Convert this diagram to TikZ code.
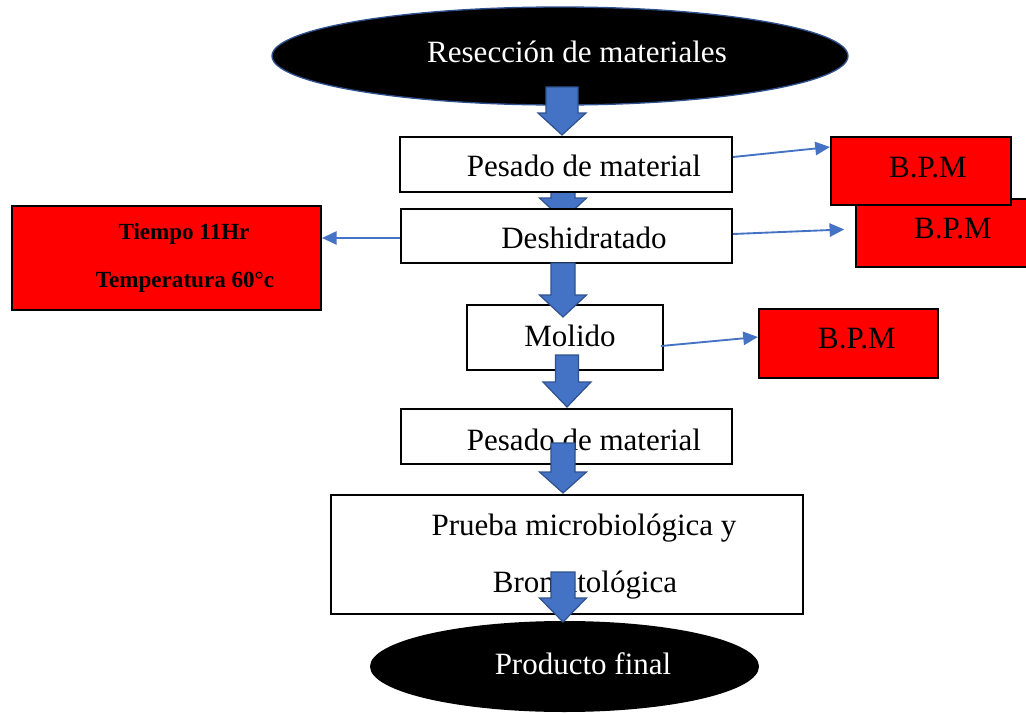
\documentclass[tikz,border=0pt]{standalone}
\usepackage{fontspec}
\setmainfont{Liberation Serif}
\usetikzlibrary{arrows.meta,fit,calc,shapes.geometric}
\definecolor{ablue}{HTML}{4472C4}
\definecolor{dblue}{HTML}{2F528F}
\definecolor{bred}{HTML}{FF0000}
\tikzset{
 box/.style={draw=black, line width=1.6pt, fill=white, inner sep=0pt},
 redbox/.style={draw=black, line width=1.6pt, fill=bred, inner sep=0pt},
 oval/.style={ellipse, fill=black, inner sep=0pt},
 lbl/.style={anchor=base, inner sep=0pt, font=\fontsize{23.25}{28}\selectfont},
 wlbl/.style={lbl, text=white},
 blbl/.style={anchor=base, inner sep=0pt, font=\fontsize{17.3}{20}\selectfont\bfseries},
 thinarrow/.style={draw=ablue, line width=1.4pt, -{Triangle[length=11pt,width=10pt]}},
 blockarrow/.style={fill=ablue, draw=dblue, line width=0.9pt, line join=miter},
}
% cx, shaft half width, head half width, y top, y head, y tip
\newcommand\blockarr[6]{%
 \draw[blockarrow] (#1-#2,#4) -- (#1+#2,#4) -- (#1+#2,#5) -- (#1+#3,#5) -- (#1,#6) -- (#1-#3,#5) -- (#1-#2,#5) -- cycle;}
\begin{document}
\begin{tikzpicture}[x=0.75pt,y=-0.75pt]
\useasboundingbox (0,0) rectangle (1026,714);
\clip (0,0) rectangle (1026,714);
% top ellipse
\node[oval, draw=dblue, line width=1pt, minimum width=432pt, minimum height=73.5pt] (e1) at (560,56) {};
\node[wlbl] (t0) at (577,62) {Resección de materiales};
\blockarr{562}{16}{24}{87}{113}{135}
\blockarr{563}{12}{23.5}{190}{198}{220}
% main boxes
\node[box, fit={(400,137)(732,192)}] (b1) {};
\node[lbl] (t1) at (584,176) {Pesado de material};
\node[box, fit={(401,209)(732,263)}] (b2) {};
\node[lbl] (t2) at (584,248) {Deshidratado};
% BPM boxes
\node[redbox, fit={(856,199)(1036,267)}] (r2) {};
\node[lbl] (tr2) at (953,238) {B.P.M};
\node[redbox, fit={(831,137)(1011,205)}] (r1) {};
\node[lbl] (tr1) at (928,177) {B.P.M};
% Molido
\node[box, fit={(467,305)(663,370)}] (m) {};
\node[lbl] (tm) at (570,346) {Molido};
\blockarr{563}{12}{23.5}{263}{295}{317}
\blockarr{567}{11.5}{24}{355}{382}{407}
\node[redbox, fit={(759,309)(938,378)}] (r3) {};
\node[lbl] (tr3) at (857,348) {B.P.M};
% left red box
\node[redbox, fit={(12,206)(321,310)}] (tr) {};
\node[blbl] (tt1) at (184,239) {Tiempo 11Hr};
\node[blbl] (tt2) at (185,287) {Temperatura 60°c};
% thin arrows
\draw[thinarrow] ($(b1.east)+(0,-7.5)$) -- ($(r1.west)+(0,-24)$);
\draw[thinarrow, shorten >=8pt] ($(b2.east)+(0,-2)$) -- ($(r2.west)+(0,-4)$);
\draw[thinarrow] ($(m.east)+(-3,8.5)$) -- ($(r3.west)+(0,-6.5)$);
\draw[thinarrow] ($(b2.west)+(0,2)$) -- ($(tr.east)+(0,-20)$);
% lower part
\node[box, fit={(401,409)(732,464)}] (b4) {};
\node[lbl] (t4) at (584,450) {Pesado de material};
\blockarr{563}{12}{23.5}{443}{472}{493}
\node[box, fit={(331,495)(803,614)}] (b5) {};
\node[lbl] (t5a) at (584,535) {Prueba microbiológica y};
\node[lbl] (t5b) at (585,592) {Bromatológica};
\node[oval, minimum width=291.75pt, minimum height=68.25pt] (e2) at (564.5,666.5) {};
\node[wlbl] (t6) at (583,674) {Producto final};
\blockarr{563}{12}{23.5}{572}{598}{622}
\end{tikzpicture}
\end{document}
